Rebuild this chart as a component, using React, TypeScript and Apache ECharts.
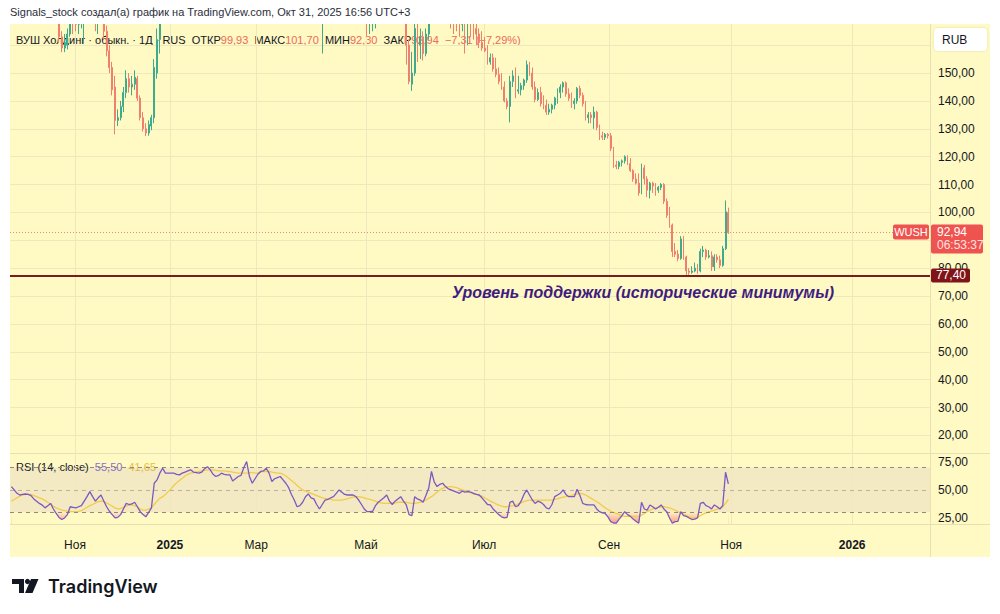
import React, { useEffect, useRef } from 'react';
import * as echarts from 'echarts';

// ---------- texts ----------
const HEADER = 'Signals_stock создал(а) график на TradingView.com, Окт 31, 2025 16:56 UTC+3';
const SYMBOL_TITLE = 'ВУШ Холдинг · обыкн. · 1Д · RUS';
const TICKER = 'WUSH';
const CURRENCY = 'RUB';
const COUNTDOWN = '06:53:37';
const SUPPORT_TEXT = 'Уровень поддержки (исторические минимумы)';
const RSI_TITLE = 'RSI (14, close)';

// ---------- last bar values ----------
const LAST_OPEN = 99.93;
const LAST_HIGH = 101.7;
const LAST_LOW = 92.3;
const LAST_CLOSE = 92.94;
const LAST_CHANGE = -7.31;
const LAST_CHANGE_PCT = -7.29;
const SUPPORT_LEVEL = 77.4;
const RSI_LAST = 55.5;
const RSI_MA_LAST = 41.65;

// ---------- axes ----------
const timeTickPos = [22.7, 56.6, 87.4, 126.6, 168.8, 213.4, 257, 300.2];
const timeTickLabels = ['Ноя', '2025', 'Мар', 'Май', 'Июл', 'Сен', 'Ноя', '2026'];
const priceTicks = [20, 30, 40, 50, 60, 70, 80, 100, 110, 120, 130, 140, 150];
const priceGridLines = [20, 30, 40, 50, 60, 70, 80, 90, 100, 110, 120, 130, 140, 150, 160];
const rsiTicks = [25, 50, 75];
const rsiUpper = 70;
const rsiMiddle = 50;
const rsiLower = 30;

// ---------- daily bars: [open, high, low, close] ----------
const ohlc: number[][] = [
  [193,197,189,194],[194,196,188,190],[190,192,185,187],[187,189,183,185],[185,189,183,186],
  [186,190,184,187],[187,189,184,186],[186,188,182,184],[184,186,179,181],[181,183,177,179],
  [179,181,175,177],[177,179,174,175.5],[175.5,177,172,173],[173,177,172,175],[175,178,173,176.5],
  [176,177,171,172],[172,173,168,169],[169,170,161,163],[163,165,157.5,159],[159,164,157.5,161],
  [160,166,158.5,164],[164,172,163,170],[170,173,164,168.5],[168.5,171,165,167.5],[167.5,171,164,169],
  [169,173,166,171],[171,177,160.5,175],[175,181,172,179],[179,185,177,183],[183,184,174,176],
  [176,178,165,168],[168,175,164,172],[172,178,170,176],[176,177,162,165],[165,167,156,158],
  [158,160,150,152],[152,154,142,144],[145,149,128,133],[133,137,131,134],[134,140,133,138],
  [138,145,136,143],[143,151,141,148],[148,150,143,145],[145,149,142,146],[146,151,144,148.5],
  [148,149,140,141],[141,142,133,134],[134,136,129,130],[130,132,127.4,128.5],[128.5,133,127.5,131.5],
  [131,135,129.5,134],[134,155,132,152],[150,166,148,162],[162,178,157,174],[174,186,170,183],
  [183,185,176,179],[179,184,177,182],[182,186,179,183],[183,187,180,185],[185,187,181,184],
  [184,186,181,183],[183,188,182,187],[187,191,185,189],[189,193,187,191],[191,195,189,193],
  [193,194,189,191],[191,193,188,190.5],[190.5,194,189,192],[192,196,190,194],[194,199,193,198],
  [198,203,197,201],[201,202,196,198],[198,199,193,195],[195,197,192,194],[194,197,192,196],
  [196,200,195,198],[198,199,195,197],[197,199,194,196.5],[196.5,199,195,197],[197,198,190,192],
  [192,196,191,194.5],[194.5,198,193,196.5],[196.5,200,195,198],[198,208,197,206],[206,216,204,214],
  [214,215,200,203],[203,204,195,197],[197,202,196,201],[201,206,200,205],[205,209,203,208],
  [208,211,205,209],[209,214,207,212],[212,213,207,209],[209,210,201,203],[203,207,202,205.5],
  [205.5,208,203,206],[206,209,204,207.5],[207.5,208,202,204],[204,205,199,201],[201,202,194,196],
  [196,197,188,190],[190,191,182,184],[184,185,175,177],[177,180,174,176.5],[176.5,181,175,180],
  [180,186,179,185],[185,188,183,186.5],[186.5,187,181,182.5],[182.5,184,179,180.5],[180.5,181,174,175.5],
  [175.5,176,169,170.5],[170,176,157,175],[175,179,173,177.5],[177.5,180,175,178],[178,182,176,180],
  [180,183,178,181],[181,185,180,183.5],[183.5,188,182,186.5],[186.5,187,183,185],[185,186,182,183.5],
  [183.5,186,181,183],[183,185,181,183],[183,186,181,183],[183,184,180,182],[182,183,178,179],
  [179,180,174,175],[175,176,169,171],[171,172,163,168],[168,170,164,168],[168,172,165,169],
  [169,175,166,173],[173,177,171,175.5],[175.5,178,173,177],[177,180,175,178.5],[178.5,182,177,180.5],
  [180.5,181,175,176],[176,177,171,173],[173,177,170,175.5],[175.5,178,173,177],[177,179,174,178],
  [178,179,172,174],[173,175,153,160],[160,162,146,147],[146,157.6,143.6,150],[150,169,149,166],
  [166,170,154,160],[160,166,155,163],[163,165,154.5,157],[157,166,156,164],[164,172,162,170],
  [170,188,169,185],[185,186,175,177],[177,179,172,174],[174,178,172,176],[176,179,174,177],
  [177,178,173,174.5],[174.5,175,171,172],[172,174,166,171],[171,173,164,169.5],[169.5,172,165,168.5],
  [168.5,171,163,167.5],[167.5,172,165,170],[170,172,157,168],[168,171,160,169],[169,172,163,168],
  [168,170,162,166],[166,169,160,164],[164,166,159,161],[161,165,158,159],[159,163,157.5,158],
  [158,160,153,154],[154,157,153,155.5],[155.5,157,150.5,151.5],[151.5,155.5,148.5,149.5],[149.5,152,146,147],
  [147,150,144,145],[145,147,139.5,140],[140,141,137,138],[138,149,132.3,147],[147,151,145,149],
  [150,152,141,143],[143.5,149,142.5,144],[144,146.5,142,145.5],[145.5,148,144,147.5],[147.5,154.5,146.5,153],
  [153,154,149,150],[150,152,144,145],[145,147,139.5,140.5],[140.5,144.5,140,143],[143,145,138,139],
  [139,142,137,138.5],[138.5,140.5,135,136],[136,139,135,137],[137,139,135.5,138.5],[138.5,141.5,137,141],
  [141,144.5,139,143],[143,146,141,145],[145,147,143,146.5],[146.5,147,141.5,142.5],[142.5,144.5,140,141],
  [141,143,137.5,139],[139,141,137,140],[140,145,139,144.5],[144.5,145.5,141,142],[142,143,138,139],
  [139,140,133,134],[134,136,132,135],[135,136,132,134],[134,138,130,136],[136,136.5,129.5,130.5],
  [130.5,131.5,126,127.5],[127.5,129,126,127],[127,128.5,126,128],[128,128.5,126.5,127.5],[127.5,128.5,122,123],
  [123,123.5,116,117],[117,118.5,115.5,116.5],[116.5,118.5,115.5,118],[118,119,116.5,118.5],[118.5,120.5,117.5,120],
  [120,120.5,117,117.5],[117.5,119.5,114.5,115],[115,115.5,111,112],[112,114,110,110.5],[110.5,114,106,107],
  [107,117.5,106.5,116],[116,117,110,112],[112,113,105.5,108],[108,111,105,110.5],[110.5,111,107,109.5],
  [109.5,110.5,106,108],[108,109.5,107,109],[109,110.5,108,110],[110,110.5,103,104],[104,105,98,99],
  [99,102,94.5,95.5],[95.5,96,84,86],[86,89,84,85],[85,86.5,82.5,83.5],[83.5,91.5,83,90.5],
  [90.5,91.5,83,84],[84,84.5,77.4,79],[79,80,77.6,78.5],[78.5,80.7,78,79],[79,82,78.5,80],
  [80,81.5,78,79],[79,87,78.5,86],[86,88,84,86.5],[86.5,87,83,84],[84,86.5,83.5,84.5],
  [84.5,86,79,80.5],[80.5,85,79,84],[84,85,82,83],[83,84.5,80,81],[81,88,80.5,87],
  [87,104.3,86.5,100.25],[99.93,101.7,92.3,92.94],
];

// ---------- RSI (14, close) ----------
const rsi: number[] = [
  53,50,47,45.5,46,46.4,46,45,42,40,
  38,36.5,34,36,38,33,29,25.5,23.6,25,
  28,35,34.5,34,35,36,40,44,48.5,44,
  40,43,45.5,40,35,31,28,25,25.5,28,
  33,38,37,37.5,39,35,30.6,28,26,30,
  34,56,59,65,69.4,65,65,65,65,64,
  63.5,65,66,67,68,66,65.5,65,66,69,
  70.8,68,64,62,63,65,64,63.5,63.5,58,
  60,62,63,70,75.3,62,56,60,64,66.5,
  67,69.4,65,57.6,60,61,62,59,56,52,
  46,41,35,36,39,44,46.4,43,42,37,
  33,37,41,41.5,43,44,47,50,48,46,
  45.5,45.5,45.5,44,41,37,33,30.6,30.6,31,
  36,39,41,43,45.5,40,37,40,42,44,
  40,36.6,28,27,44,42,41,39,45,51.5,
  66.5,57,53,55,56,53,51,50,49,48,
  47,49,48,48.5,48,47,46,45.5,43,40,
  37,36.6,33,30.6,28,26,25,25.5,39,40,
  35,36,40,46,50,45.5,41,38,40,39,
  37,34,33,37,44,45.5,47,50,46,44,
  44,44,50.6,45,38,37,36.6,36.6,36.6,33,
  30.6,29.5,29,26,21.7,20.5,20.3,24,27,30.6,
  28,26.4,24,22,20.3,39,33,32,36.6,35,
  33,34.5,36.6,33,30.6,25,20.3,21.7,22,30.6,
  27,26.4,25,23.6,24,25,38,39,36,35,
  33,36.6,35,33,36,65.8,55.5,
];

// ---------- RSI moving average ----------
const rsiMa: number[] = [
  40,41.5,43,44.5,45.5,46,46,46,45,44,
  43,42,40.5,39,37.5,35.5,34,33,32,31.5,
  31,30.6,30.6,30.6,30.8,31.5,33,34.5,36,37,
  38.5,39.5,40,39.5,38.5,37,35.5,34,33,33.5,
  34.5,35.5,36.5,36.6,36,34.5,33,32,32,33,
  34,37,40,42.5,44,46,48.5,51,54,56.5,
  58.5,60.5,62.5,64,65,65.5,66,66.5,67,67.5,
  68,68,68,67.5,67,67,67,66.5,66.5,66,
  65.5,65,65,65,65,65.5,65.5,65,65,66,
  66.5,66.5,66.5,66,65.5,65,65,64,62.5,60.5,
  58.5,56.5,54,52,50,49,48,47,46,45,
  44,43,42.5,42,41.5,41,41,41,41,41.5,
  42,43,43.5,44,44,43.5,43,42,41.5,41,
  40,39,38.5,38,38,38,38.5,38.5,39,39,
  39,39,38.5,38,38,38.5,39,40,41,42.5,
  44,46,48,50,51.5,52.5,53,53,52.5,52,
  51,50,49.5,48.5,47.5,46.5,46,45.5,44.5,43,
  41.5,40,39,37.5,36.5,35.5,35,35,35.5,36,
  36.5,37.5,38.5,39.5,40.5,41,41,41,41,41,
  41,41,41,41,41.5,42,43,43.5,44,44.5,
  45,46,46.5,47,46.5,45.5,44,42.5,41,39.5,
  38,36,34,32.5,31,30,29,28,27,26.5,
  26.4,26.4,26.4,26.4,26.4,27.5,29,30.5,32,33,
  34,34.5,35,35,34.5,34,33,32,30.6,29.5,
  28.5,27,26,25,25,25.5,27,28.5,29.5,30.5,
  31,32,33,33.5,35,38,41.65,
];

// ---------- styles ----------
const BG = '#fff9c4';
const GRID = '#f0e8bd';
const SEP = '#e9e0b2';
const TEXT = '#131722';
const UP = '#3fab8c';
const DOWN = '#ef7f6e';
const RED_VAL = '#ec6a58';
const RSI_COLOR = '#7e57c2';
const MA_COLOR = '#f2cb4a';
const FONT = '"Liberation Sans", Arial, sans-serif';

const fmt = (v: number) => v.toFixed(2).replace('.', ',');
const signed = (v: number) => (v < 0 ? '\u2212' : '+') + fmt(Math.abs(v));

const X_MIN = -0.5;
const X_MAX = 328;

function buildOption(yLast: number | null, ySup: number | null) {
  const candleData = ohlc.map((r, i) => [i, r[0], r[3], r[2], r[1]]);
  const rsiData = rsi.map((v, i) => [i, v]);
  const maData = rsiMa.map((v, i) => [i, v]);
  const lowerLine = rsi.map((v, i) => [i, rsiLower]);
  const clampedLow = rsi.map((v, i) => [i, Math.min(v, rsiLower)]);

  const graphics: any[] = [
    { type: 'rect', z: -10, silent: true, shape: { x: 10, y: 24, width: 980, height: 533 }, style: { fill: BG } },
    { type: 'line', z: -5, silent: true, shape: { x1: 930.5, y1: 24, x2: 930.5, y2: 557 }, style: { stroke: SEP, lineWidth: 1 } },
    { type: 'line', z: -5, silent: true, shape: { x1: 10, y1: 453.5, x2: 990, y2: 453.5 }, style: { stroke: SEP, lineWidth: 1 } },
    { type: 'line', z: -5, silent: true, shape: { x1: 10, y1: 524.5, x2: 990, y2: 524.5 }, style: { stroke: SEP, lineWidth: 1 } },
    // page strip above the chart frame (keeps clipped candles out of the header)
    { type: 'rect', z: 40, silent: true, shape: { x: 0, y: 0, width: 1000, height: 24 }, style: { fill: '#ffffff' } },
    { type: 'text', z: 41, x: 10, y: 12, silent: true, style: { text: HEADER, font: `11px ${FONT}`, fill: '#2a2e39', verticalAlign: 'middle' } },
    {
      type: 'rect', z: 20, silent: true, shape: { x: 934, y: 28, width: 53, height: 23, r: 4 },
      style: { fill: '#ffffff', shadowBlur: 2, shadowColor: 'rgba(0,0,0,0.12)' },
    },
    { type: 'text', z: 21, x: 942, y: 40, silent: true, style: { text: CURRENCY, font: `12px ${FONT}`, fill: TEXT, verticalAlign: 'middle' } },
    {
      type: 'text', z: 1, x: 16, y: 40, silent: true,
      style: {
        text: `${SYMBOL_TITLE}  ОТКР{r|${fmt(LAST_OPEN)}}  МАКС{r|${fmt(LAST_HIGH)}}  МИН{r|${fmt(LAST_LOW)}}  ЗАКР{r|${fmt(LAST_CLOSE)}}  {r|${signed(LAST_CHANGE)} (${signed(LAST_CHANGE_PCT)}%)}`,
        font: `11px ${FONT}`, fill: TEXT, verticalAlign: 'middle',
        rich: { r: { fill: RED_VAL, font: `11px ${FONT}` } },
      },
    },
    {
      type: 'text', z: 1, x: 16, y: 467, silent: true,
      style: {
        text: `${RSI_TITLE}  {p|${fmt(RSI_LAST)}}  {y|${fmt(RSI_MA_LAST)}}`,
        font: `11px ${FONT}`, fill: TEXT, verticalAlign: 'middle',
        rich: { p: { fill: '#8c6fc9', font: `11px ${FONT}` }, y: { fill: '#e8c040', font: `11px ${FONT}` } },
      },
    },
    // TradingView logo
    { type: 'rect', silent: true, shape: { x: 12, y: 579, width: 12, height: 5 }, style: { fill: TEXT } },
    { type: 'rect', silent: true, shape: { x: 19, y: 579, width: 5, height: 14 }, style: { fill: TEXT } },
    { type: 'circle', silent: true, shape: { cx: 27.5, cy: 581.5, r: 2.6 }, style: { fill: TEXT } },
    { type: 'polygon', silent: true, shape: { points: [[31, 579], [38.5, 579], [32.5, 593], [25, 593]] }, style: { fill: TEXT } },
    { type: 'text', x: 48, y: 586, silent: true, style: { text: 'TradingView', font: `600 18px Inter, "Noto Sans", sans-serif`, fill: TEXT, verticalAlign: 'middle' } },
  ];

  if (yLast != null && ySup != null) {
    graphics.push(
      { type: 'rect', z: 50, silent: true, shape: { x: 893, y: yLast - 7.5, width: 36, height: 15, r: 2 }, style: { fill: '#ef5350' } },
      { type: 'text', z: 51, x: 911, y: yLast, silent: true, style: { text: TICKER, font: `11px ${FONT}`, fill: '#ffffff', align: 'center', verticalAlign: 'middle' } },
      { type: 'rect', z: 50, silent: true, shape: { x: 931, y: yLast - 7.5, width: 52, height: 29, r: 2 }, style: { fill: '#ef5350' } },
      { type: 'text', z: 51, x: 937, y: yLast, silent: true, style: { text: fmt(LAST_CLOSE), font: `12px ${FONT}`, fill: '#ffffff', verticalAlign: 'middle' } },
      { type: 'text', z: 51, x: 937, y: yLast + 13, silent: true, style: { text: COUNTDOWN, font: `12px ${FONT}`, fill: '#ffe3e0', verticalAlign: 'middle' } },
      { type: 'rect', z: 50, silent: true, shape: { x: 931, y: ySup - 7, width: 39, height: 14, r: 2 }, style: { fill: '#7f1518' } },
      { type: 'text', z: 51, x: 936, y: ySup, silent: true, style: { text: fmt(SUPPORT_LEVEL), font: `12px ${FONT}`, fill: '#ffffff', verticalAlign: 'middle' } },
      { type: 'text', z: 30, x: 452, y: ySup + 17, silent: true, style: { text: SUPPORT_TEXT, font: `italic bold 16px ${FONT}`, fill: '#3f1d7e', verticalAlign: 'middle' } },
    );
  }

  const hiddenLine = { lineStyle: { opacity: 0, width: 0 }, showSymbol: false, symbol: 'none', silent: true };

  return {
    animation: false,
    backgroundColor: 'transparent',
    grid: [
      { left: 10, right: 70, top: 24, height: 429 },
      { left: 10, right: 70, top: 453, height: 71 },
    ],
    xAxis: [
      { type: 'value', gridIndex: 0, min: X_MIN, max: X_MAX, show: false },
      {
        type: 'value', gridIndex: 1, min: X_MIN, max: X_MAX,
        axisLine: { show: false }, axisTick: { show: false }, splitLine: { show: false },
        axisLabel: {
          customValues: timeTickPos,
          margin: 15,
          color: TEXT,
          fontSize: 12,
          fontFamily: FONT,
          formatter: (v: number) => {
            const k = timeTickPos.findIndex((p) => Math.abs(p - v) < 0.01);
            const t = k >= 0 ? timeTickLabels[k] : '';
            return /^\d{4}$/.test(t) ? `{b|${t}}` : t;
          },
          rich: { b: { fontWeight: 'bold', fontSize: 12, color: TEXT, fontFamily: FONT } },
        },
      },
    ],
    yAxis: [
      {
        type: 'value', gridIndex: 0, position: 'right', min: 13.7, max: 167.6,
        axisLine: { show: false }, axisTick: { show: false }, splitLine: { show: false },
        axisLabel: { customValues: priceTicks, formatter: (v: number) => fmt(v), color: TEXT, fontSize: 12, fontFamily: FONT, margin: 8, align: 'left' },
      },
      {
        type: 'value', gridIndex: 1, position: 'right', min: 19.6, max: 83,
        axisLine: { show: false }, axisTick: { show: false }, splitLine: { show: false },
        axisLabel: { customValues: rsiTicks, formatter: (v: number) => fmt(v), color: TEXT, fontSize: 12, fontFamily: FONT, margin: 8, align: 'left' },
      },
    ],
    graphic: graphics,
    series: [
      {
        type: 'line', name: 'grid', xAxisIndex: 0, yAxisIndex: 0, z: 1,
        data: ohlc.map((r, i) => [i, r[3]]), ...hiddenLine,
        markLine: {
          silent: true, symbol: ['none', 'none'], z: 1, label: { show: false },
          lineStyle: { color: GRID, width: 1, type: 'solid' },
          data: [
            ...priceGridLines.map((v) => ({ yAxis: v })),
            ...timeTickPos.map((v) => ({ xAxis: v })),
          ],
        },
      },
      {
        type: 'candlestick', name: 'WUSH', xAxisIndex: 0, yAxisIndex: 0, z: 3, clip: true,
        data: candleData, encode: { x: 0, y: [1, 2, 3, 4] },
        barWidth: 1.4,
        itemStyle: { color: UP, color0: DOWN, borderColor: UP, borderColor0: DOWN, borderWidth: 1 },
        markLine: {
          silent: true, symbol: ['none', 'none'], label: { show: false },
          data: [
            { yAxis: LAST_CLOSE, lineStyle: { color: '#ee8a80', width: 1, type: [1, 2] } },
            { yAxis: SUPPORT_LEVEL, lineStyle: { color: '#7a1c1f', width: 2, type: 'solid' } },
          ],
        },
      },
      {
        type: 'line', name: 'grid2', xAxisIndex: 1, yAxisIndex: 1, z: 1,
        data: rsiData, ...hiddenLine,
        markLine: {
          silent: true, symbol: ['none', 'none'], z: 1, label: { show: false },
          lineStyle: { color: GRID, width: 1, type: 'solid' },
          data: timeTickPos.map((v) => ({ xAxis: v })),
        },
        markArea: {
          silent: true,
          itemStyle: { color: 'rgba(126,87,194,0.09)' },
          data: [[{ yAxis: rsiLower }, { yAxis: rsiUpper }]],
        },
      },
      {
        // oversold zone: pink from the bottom up to the 30 level ...
        type: 'line', name: 'osZone', xAxisIndex: 1, yAxisIndex: 1, z: 2, data: lowerLine, ...hiddenLine,
        areaStyle: {
          origin: 'start',
          opacity: 1,
          color: new echarts.graphic.LinearGradient(0, 0, 0, 1, [
            { offset: 0, color: 'rgba(242,54,69,0.05)' },
            { offset: 1, color: 'rgba(242,54,69,0.5)' },
          ]),
        },
      },
      {
        // ... masked below the RSI line, leaving only the part between the line and 30
        type: 'line', name: 'osMask', xAxisIndex: 1, yAxisIndex: 1, z: 2, data: clampedLow, ...hiddenLine,
        areaStyle: { origin: 'start', opacity: 1, color: BG },
      },
      {
        type: 'line', name: 'levels', xAxisIndex: 1, yAxisIndex: 1, z: 3, data: rsiData, ...hiddenLine,
        markLine: {
          silent: true, symbol: ['none', 'none'], label: { show: false },
          data: [
            { yAxis: rsiUpper, lineStyle: { color: '#8d8a80', width: 1, type: [4, 4] } },
            { yAxis: rsiMiddle, lineStyle: { color: '#b7b1a0', width: 1, type: [4, 4] } },
            { yAxis: rsiLower, lineStyle: { color: '#8d8a80', width: 1, type: [4, 4] } },
          ],
        },
      },
      {
        type: 'line', name: 'RSI MA', xAxisIndex: 1, yAxisIndex: 1, z: 4, data: maData,
        showSymbol: false, symbol: 'none', silent: true, lineStyle: { color: MA_COLOR, width: 1.3 },
      },
      {
        type: 'line', name: 'RSI', xAxisIndex: 1, yAxisIndex: 1, z: 5, data: rsiData,
        showSymbol: false, symbol: 'none', silent: true, lineStyle: { color: RSI_COLOR, width: 1.3 },
      },
    ],
  };
}

export default function App() {
  const ref = useRef<HTMLDivElement>(null);
  useEffect(() => {
    const el = ref.current;
    if (!el) return;
    const chart = echarts.init(el, undefined, { renderer: 'svg' });
    chart.setOption(buildOption(null, null) as any);
    const yLast = chart.convertToPixel({ yAxisIndex: 0 } as any, LAST_CLOSE) as unknown as number;
    const ySup = chart.convertToPixel({ yAxisIndex: 0 } as any, SUPPORT_LEVEL) as unknown as number;
    chart.setOption(buildOption(yLast, ySup) as any, { notMerge: true });
    return () => chart.dispose();
  }, []);
  return (
    <div
      ref={ref}
      style={{ position: 'fixed', left: 0, top: 0, width: 1000, height: 614, background: '#ffffff' }}
    />
  );
}
